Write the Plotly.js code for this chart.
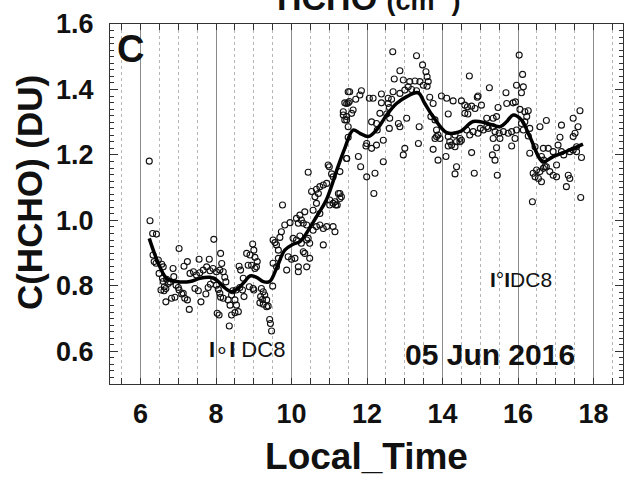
<!DOCTYPE html>
<html>
<head>
<meta charset="utf-8">
<script src="https://cdn.plot.ly/plotly-3.0.1.min.js"></script>
<style>html,body{margin:0;padding:0;background:#fff;}#chart{width:624px;height:480px;}</style>
</head>
<body>
<div id="chart"></div>
<script>
// Observed DC8 HCHO columns (Local_Time in hours, C(HCHO) in DU)
const obsTime = [
6.23,6.25,6.32,6.42,6.33,6.36,6.41,6.47,6.56,6.60,6.49,6.58,6.60,6.63,6.67,6.54,6.62,6.69,6.73,6.78,
6.86,6.88,6.94,7.00,6.67,6.82,6.91,7.02,7.09,7.13,7.17,7.24,7.29,7.02,7.24,7.15,7.31,7.40,7.48,7.57,
7.66,7.75,7.84,7.92,8.01,8.10,8.15,8.19,7.55,7.82,7.94,8.12,7.44,7.53,7.60,7.73,7.79,7.85,7.94,8.01,
8.06,8.10,8.12,8.19,8.03,8.08,8.23,8.26,8.35,8.32,8.41,8.50,8.54,8.59,8.50,8.41,8.37,8.44,8.53,8.63,
8.70,8.74,8.72,8.61,8.65,8.81,8.90,8.97,9.03,9.09,9.00,8.85,8.94,9.03,9.07,8.88,8.98,9.00,9.20,9.25,
9.29,9.18,9.23,9.34,9.16,9.25,9.34,9.38,9.42,9.44,9.47,9.50,9.60,9.51,9.65,9.51,9.56,9.60,9.73,9.69,
9.65,9.76,9.87,9.91,10.00,10.09,9.82,9.96,10.13,10.18,10.26,10.31,10.40,10.04,10.13,10.22,10.26,10.40,10.44,10.48,
10.18,10.18,10.40,10.48,10.31,10.35,10.57,10.66,10.75,10.84,10.93,11.10,11.15,10.84,10.57,10.66,10.75,11.10,11.21,11.01,
10.44,10.97,11.00,11.06,11.10,10.53,10.66,10.75,10.84,10.93,10.62,10.71,11.01,11.15,11.24,11.28,10.22,10.35,11.17,11.37,
11.41,11.46,11.50,11.53,11.46,11.50,11.46,11.50,
12.68,13.31,13.47,16.03,12.87,13.56,13.59,13.62,14.71,16.12,12.72,12.96,13.13,13.27,13.40,13.49,11.54,11.85,11.81,11.70,
11.41,11.50,11.63,11.59,11.37,11.46,12.06,12.38,12.56,12.65,12.69,12.87,13.00,13.09,13.18,13.31,13.59,13.66,13.75,15.24,
15.68,15.96,16.14,16.09,14.94,14.92,13.97,14.11,14.28,14.50,14.59,14.66,14.77,14.86,14.59,14.67,15.03,15.17,15.34,15.43,
15.47,15.70,15.87,15.93,16.05,16.18,16.27,16.23,13.69,13.80,14.15,12.16,12.38,12.56,12.59,12.34,12.52,12.60,12.59,12.83,
12.87,13.05,12.12,12.25,12.27,13.38,13.84,13.88,13.93,13.80,13.84,14.15,14.33,14.46,14.19,14.37,14.50,14.64,14.72,14.81,
14.94,15.08,15.17,15.00,15.21,15.34,15.39,15.50,15.61,15.74,15.83,15.34,15.52,15.43,15.32,15.39,14.77,14.84,15.45,15.83,
15.92,15.96,16.18,16.31,16.27,16.14,16.09,11.99,11.97,12.12,12.25,12.43,11.77,11.83,11.99,12.21,12.43,12.18,13.00,12.96,
13.36,13.75,13.88,14.09,14.15,14.24,14.33,14.46,14.37,14.33,11.28,11.28,11.32,11.46,16.31,16.45,16.40,16.49,16.58,16.67,
16.75,16.84,16.93,17.02,16.45,16.54,16.62,16.71,16.58,16.75,16.67,16.80,16.38,16.93,17.02,17.06,17.11,17.15,17.33,17.37,
17.28,17.15,17.21,17.37,17.46,17.55,17.46,17.51,17.59,17.64,17.46,17.55,17.68,17.66,16.62,16.68
];
const obsHCHO = [
1.181,0.999,0.960,0.958,0.894,0.874,0.869,0.879,0.866,0.858,0.838,0.823,0.813,0.797,0.792,0.787,0.785,0.820,0.807,0.812,
0.853,0.828,0.802,0.795,0.751,0.762,0.765,0.787,0.775,0.777,0.762,0.757,0.728,0.914,0.874,0.860,0.838,0.843,0.833,0.840,
0.848,0.858,0.846,0.853,0.843,0.848,0.868,0.843,0.881,0.881,0.942,0.899,0.792,0.785,0.751,0.775,0.795,0.805,0.818,0.802,
0.789,0.777,0.765,0.762,0.716,0.711,0.826,0.812,0.677,0.757,0.772,0.757,0.741,0.721,0.718,0.711,0.741,0.785,0.787,0.795,
0.787,0.767,0.823,0.860,0.848,0.899,0.894,0.928,0.887,0.874,0.909,0.863,0.863,0.853,0.858,0.797,0.792,0.787,0.792,0.782,
0.772,0.767,0.758,0.757,0.748,0.744,0.736,0.738,0.697,0.685,0.662,0.799,0.858,0.869,0.884,0.940,0.932,0.925,0.965,0.948,
0.909,1.047,0.848,0.889,0.881,0.884,0.986,0.993,1.006,0.991,1.001,0.991,0.986,0.945,0.940,0.952,0.930,0.940,0.945,0.930,
0.858,0.843,0.858,0.884,0.904,0.899,0.970,0.981,0.986,0.975,0.981,0.981,0.965,0.925,1.031,1.052,1.021,1.052,1.047,1.047,
1.147,1.169,1.164,1.142,1.133,1.088,1.095,1.103,1.108,1.113,1.072,1.082,1.062,1.057,1.082,1.067,1.016,1.026,1.047,1.332,
1.307,1.357,1.393,1.363,1.317,1.286,1.189,1.254,
1.515,1.503,1.475,1.505,1.457,1.454,1.439,1.424,1.441,1.446,1.432,1.429,1.424,1.426,1.424,1.413,1.393,1.396,1.383,1.370,
1.359,1.359,1.337,1.327,1.322,1.307,1.373,1.386,1.373,1.370,1.393,1.388,1.398,1.408,1.400,1.396,1.410,1.376,1.357,1.405,
1.390,1.413,1.408,1.390,1.380,1.376,1.380,1.373,1.365,1.365,1.352,1.347,1.349,1.342,1.327,1.325,1.352,1.312,1.312,1.317,
1.345,1.357,1.359,1.362,1.339,1.332,1.335,1.317,1.317,1.307,1.325,1.373,1.359,1.357,1.345,1.327,1.325,1.312,1.281,1.296,
1.286,1.312,1.301,1.296,1.276,1.286,1.276,1.261,1.250,1.250,1.256,1.256,1.261,1.250,1.240,1.240,1.245,1.276,1.261,1.271,
1.266,1.276,1.286,1.281,1.281,1.286,1.271,1.266,1.271,1.266,1.271,1.250,1.250,1.222,1.200,1.184,1.207,1.144,1.138,1.227,
1.250,1.276,1.301,1.281,1.258,1.276,1.296,1.235,1.227,1.220,1.230,1.245,1.195,1.164,1.133,1.144,1.179,1.082,1.220,1.200,
1.235,1.217,1.184,1.195,1.227,1.230,1.225,1.240,1.164,1.142,1.149,1.082,1.072,1.189,1.205,1.225,1.144,1.154,1.149,1.159,
1.164,1.149,1.138,1.133,1.133,1.128,1.118,1.164,1.286,1.305,1.220,1.220,1.057,1.210,1.169,1.230,1.254,1.291,1.138,1.128,
1.103,1.210,1.200,1.210,1.215,1.225,1.256,1.266,1.286,1.335,1.312,1.210,1.192,1.070,1.195,1.184
];
// Smoothed fit
const fitTime = [6.23,6.47,6.69,6.95,7.31,7.57,7.84,8.01,8.24,8.41,8.59,8.76,8.90,9.07,9.25,9.42,9.60,9.82,10.04,10.22,
10.39,10.66,10.92,11.23,11.41,11.63,11.81,12.03,12.25,12.52,12.78,13.05,13.35,13.53,13.75,14.11,14.46,14.81,15.17,15.52,
15.70,15.87,16.09,16.31,16.66,16.93,17.37,17.72];
const fitHCHO = [0.945,0.869,0.823,0.813,0.813,0.823,0.826,0.818,0.793,0.782,0.793,0.813,0.830,0.826,0.813,0.813,0.853,0.909,0.927,0.935,
0.960,1.011,1.062,1.164,1.220,1.276,1.266,1.256,1.276,1.322,1.357,1.378,1.390,1.357,1.317,1.268,1.271,1.302,1.297,1.286,
1.302,1.322,1.307,1.256,1.179,1.195,1.215,1.233];

const xTickVals = [6,8,10,12,14,16,18];
const yTickVals = [0.6,0.8,1.0,1.2,1.4,1.6];
const yTickText = ['0.6','0.8','1.0','1.2','1.4','1.6'];

const FONT = 'Arial, "Liberation Sans", sans-serif';
const bold = (size) => ({family: FONT, size: size, color: '#111', weight: 'bold'});

const traces = [
  {x: obsTime, y: obsHCHO, type: 'scatter', mode: 'markers',
   marker: {symbol: 'circle-open', size: 6, color: '#111', line: {width: 1.1, color: '#111'}},
   hoverinfo: 'skip', showlegend: false},
  {x: fitTime, y: fitHCHO, type: 'scatter', mode: 'lines',
   line: {color: '#000', width: 3.5, shape: 'spline', smoothing: 1},
   hoverinfo: 'skip', showlegend: false}
];

const layout = {
  width: 624, height: 480,
  margin: {l: 110, r: 1, t: 24, b: 96},
  paper_bgcolor: '#fff', plot_bgcolor: '#fff',
  showlegend: false,
  xaxis: {
    range: [5.19, 18.78], tickvals: xTickVals, ticktext: xTickVals.map(String),
    showgrid: true, gridcolor: '#8a8a8a', gridwidth: 1,
    zeroline: false, showline: true, linecolor: '#333', linewidth: 1, mirror: 'allticks',
    ticks: 'inside', ticklen: 6, tickcolor: '#333',
    minor: {dtick: 0.5, tick0: 0, showgrid: true, gridcolor: '#b5b5b5', griddash: 'dot', gridwidth: 1,
            ticks: 'inside', ticklen: 6, tickcolor: '#333'},
    tickfont: bold(27), ticklabelstandoff: 6,
    title: {text: 'Local_Time', font: bold(37), standoff: 14}
  },
  yaxis: {
    range: [0.5, 1.6], tickvals: yTickVals, ticktext: yTickText,
    showgrid: false, zeroline: false, showline: true, linecolor: '#333', linewidth: 1, mirror: 'allticks',
    ticks: 'inside', ticklen: 8, tickcolor: '#333',
    minor: {dtick: 0.02, tick0: 0, showgrid: false, ticks: 'inside', ticklen: 4, tickcolor: '#333'},
    tickfont: bold(27), ticklabelstandoff: 10
  },
  annotations: [
    {xref: 'paper', yref: 'paper', x: 0.503, y: 1, yanchor: 'bottom', xanchor: 'center', yshift: 5,
     text: 'HCHO <span style="font-size:27px">(cm<sup>-2</sup>)</span>', showarrow: false, font: bold(34)},
    {xref: 'paper', yref: 'paper', x: -0.158, y: 0.533, xanchor: 'center', yanchor: 'middle', textangle: -90,
     text: 'C(HCHO) (DU)', showarrow: false, font: bold(35)},
    {xref: 'x', yref: 'y', x: 5.72, y: 1.525, xanchor: 'center', yanchor: 'middle',
     text: 'C', showarrow: false, font: bold(38)},
    {xref: 'x', yref: 'y', x: 15.25, y: 0.589, xanchor: 'center', yanchor: 'middle',
     text: '05 Jun 2016', showarrow: false, font: bold(30)},
    {xref: 'x', yref: 'y', x: 8.82, y: 0.604, xanchor: 'center', yanchor: 'middle',
     text: '<b>I</b>∘<b>I</b> DC8', showarrow: false, font: {family: FONT, size: 22, color: '#111'}},
    {xref: 'x', yref: 'y', x: 16.08, y: 0.818, xanchor: 'center', yanchor: 'middle',
     text: '<b>I</b>°<b>I</b>DC8', showarrow: false, font: {family: FONT, size: 21, color: '#111'}}
  ]
};

Plotly.newPlot('chart', traces, layout, {staticPlot: true, displayModeBar: false});
</script>
</body>
</html>
